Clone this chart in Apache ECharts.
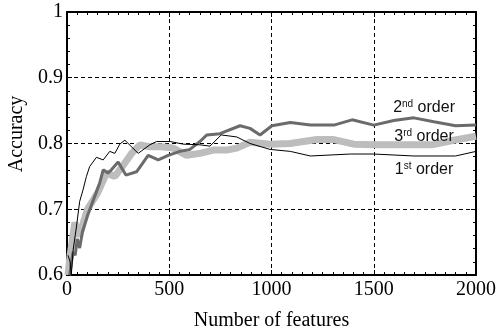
<!DOCTYPE html>
<html>
<head>
<meta charset="utf-8">
<script src="https://cdn.jsdelivr.net/npm/echarts@6/dist/echarts.min.js"></script>
<style>
  html, body { margin: 0; padding: 0; background: #fff; }
  #chart { width: 497px; height: 331px; }
</style>
</head>
<body>
<div id="chart"></div>
<script>
// 数据
const xTicks = [0, 500, 1000, 1500, 2000];
const yTicks = [0.6, 0.7, 0.8, 0.9, 1];

const feat3rd = [5, 15, 25, 38, 50, 62, 75, 100, 150, 193, 234, 275, 316, 356, 405, 460, 519, 585, 650, 716, 781, 830, 895, 993, 1092, 1222, 1304, 1402, 1500, 1598, 1785, 1891, 2000];
const acc3rd = [0.60, 0.63, 0.65, 0.68, 0.665, 0.66, 0.675, 0.70, 0.725, 0.755, 0.75, 0.767, 0.785, 0.798, 0.795, 0.795, 0.793, 0.782, 0.785, 0.79, 0.79, 0.793, 0.802, 0.799, 0.800, 0.806, 0.806, 0.799, 0.798, 0.798, 0.798, 0.805, 0.811];

const feat2nd = [13, 22, 30, 40, 50, 62, 75, 100, 130, 160, 177, 200, 217, 250, 288, 340, 397, 446, 495, 552, 601, 650, 684, 748, 846, 895, 944, 1002, 1092, 1190, 1305, 1394, 1500, 1598, 1696, 1794, 1900, 2000];
const acc2nd = [0.60, 0.62, 0.635, 0.63, 0.655, 0.641, 0.665, 0.69, 0.715, 0.74, 0.76, 0.755, 0.760, 0.772, 0.752, 0.757, 0.782, 0.775, 0.782, 0.788, 0.791, 0.803, 0.813, 0.815, 0.827, 0.823, 0.813, 0.827, 0.832, 0.828, 0.828, 0.836, 0.828, 0.835, 0.839, 0.833, 0.827, 0.828];

const feat1st = [5, 15, 21, 30, 46, 62, 78, 95, 111, 144, 177, 209, 234, 258, 283, 291, 348, 405, 438, 504, 569, 650, 699, 754, 830, 895, 993, 1092, 1190, 1386, 1500, 1696, 1900, 2000];
const acc1st = [0.63, 0.62, 0.60, 0.638, 0.673, 0.712, 0.729, 0.75, 0.765, 0.779, 0.775, 0.788, 0.785, 0.799, 0.805, 0.803, 0.785, 0.798, 0.803, 0.803, 0.799, 0.798, 0.796, 0.813, 0.810, 0.80, 0.791, 0.788, 0.781, 0.784, 0.784, 0.781, 0.781, 0.788];

// 曲线旁的标注：[文字, 上标, x, y]
const notes = [
  ['2', 'nd', 1746, 0.854],
  ['3', 'rd', 1746, 0.810],
  ['1', 'st', 1746, 0.760],
];

const pairs = (xs, ys) => xs.map((x, i) => [x, ys[i]]);

const serif = 'Liberation Serif';
const black = '#000';

const chart = echarts.init(document.getElementById('chart'));

// 公共坐标轴样式（四边框，刻度朝内）
const baseX = {
  type: 'value',
  min: xTicks[0],
  max: xTicks[xTicks.length - 1],
  interval: 500,
  axisLine: { show: true, onZero: false, lineStyle: { color: black, width: 2 } },
  axisTick: { show: true, inside: true, length: 5, lineStyle: { color: black, width: 1 } },
  minorTick: { show: true, splitNumber: 10, length: 3, lineStyle: { color: black, width: 1 } },
};
const baseY = {
  type: 'value',
  min: yTicks[0],
  max: yTicks[yTicks.length - 1],
  interval: 0.1,
  axisLine: { show: true, onZero: false, lineStyle: { color: black, width: 2 } },
  axisTick: { show: true, inside: true, length: 5, lineStyle: { color: black, width: 1 } },
  minorTick: { show: true, splitNumber: 5, length: 3, lineStyle: { color: black, width: 1 } },
};

chart.setOption({
  animation: false,
  grid: { left: 67, right: 21, top: 12, bottom: 56, outerBoundsMode: 'none' },
  xAxis: [
    {
      ...baseX,
      position: 'bottom',
      name: 'Number of features',
      nameLocation: 'middle',
      nameGap: 36,
      nameTextStyle: { fontFamily: serif, fontSize: 20, color: black },
      axisLabel: { fontFamily: serif, fontSize: 20, color: black, margin: 5, formatter: (v) => String(v) },
      splitLine: { show: true, lineStyle: { color: black, type: [4, 3], width: 1 } },
    },
    { ...baseX, position: 'top', axisLabel: { show: false }, splitLine: { show: false } },
  ],
  yAxis: [
    {
      ...baseY,
      position: 'left',
      axisLabel: { fontFamily: serif, fontSize: 20, color: black, margin: 4, formatter: (v) => String(+v.toFixed(1)) },
      splitLine: { show: true, lineStyle: { color: black, type: [4, 3], width: 1 } },
    },
    { ...baseY, position: 'right', axisLabel: { show: false }, splitLine: { show: false } },
  ],
  graphic: [
    {
      type: 'text',
      x: 17,
      y: 134,
      rotation: Math.PI / 2,
      style: {
        text: 'Accuracy',
        fontFamily: serif,
        fontSize: 20,
        fill: black,
        align: 'center',
        verticalAlign: 'middle',
      },
    },
  ],
  series: [
    {
      name: '3rd order',
      type: 'line',
      showSymbol: false,
      clip: true,
      lineStyle: { color: '#bdbdbd', width: 7 },
      data: pairs(feat3rd, acc3rd),
    },
    {
      name: '2nd order',
      type: 'line',
      showSymbol: false,
      clip: true,
      lineStyle: { color: '#6b6b6b', width: 3 },
      data: pairs(feat2nd, acc2nd),
    },
    {
      name: '1st order',
      type: 'line',
      showSymbol: false,
      clip: true,
      lineStyle: { color: black, width: 1 },
      data: pairs(feat1st, acc1st),
      markPoint: {
        symbol: 'circle',
        symbolSize: 0,
        silent: true,
        label: {
          show: true,
          position: 'inside',
          formatter: (p) => `{n|${p.data.base}}{s|${p.data.sup}}{n| order}`,
          rich: {
            n: { fontFamily: 'Liberation Sans', fontSize: 16, color: '#111', lineHeight: 18 },
            s: { fontFamily: 'Liberation Sans', fontSize: 10, color: '#111', lineHeight: 10, verticalAlign: 'top' },
          },
        },
        data: notes.map((n) => ({ coord: [n[2], n[3]], base: n[0], sup: n[1] })),
      },
    },
  ],
});
</script>
</body>
</html>
